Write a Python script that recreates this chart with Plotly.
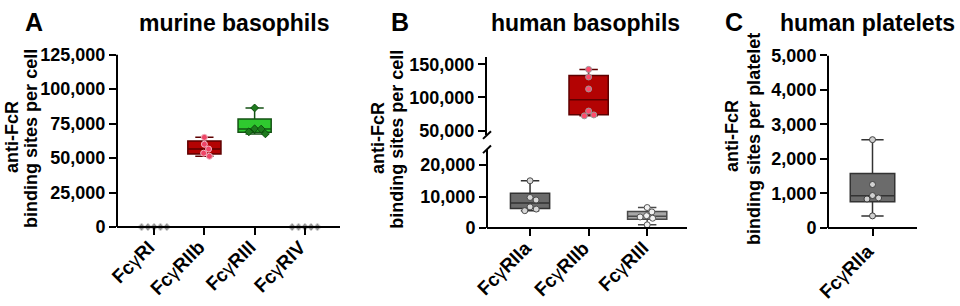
import plotly.graph_objects as go

# ---------------- data ----------------
A_CATS = ["FcγRI", "FcγRIIb", "FcγRIII", "FcγRIV"]
A_RI = [0, 0, 0, 0, 0]
A_RIIB = [65000, 60000, 56500, 53500, 51300]
A_RIII = [86300, 71200, 71000, 69000, 67500]
A_RIV = [0, 0, 0, 0, 0]
# box statistics: q1, median, q3, lower whisker, upper whisker
A_RIIB_STATS = [53000, 56500, 62300, 51300, 65000]
A_RIII_STATS = [68700, 71000, 78300, 67500, 86300]
A_YTICKS = [0, 25000, 50000, 75000, 100000, 125000]

B_CATS = ["FcγRIIa", "FcγRIIb", "FcγRIII"]
B_RIIA = [15000, 9700, 8900, 6700, 6000, 5500]
B_RIIB = [142300, 130900, 112800, 79500, 73700, 72300]
B_RIII = [6500, 5100, 3900, 3500, 3100, 1000]
B_RIIA_STATS = [6200, 7900, 11000, 5500, 15000]
B_RIIB_STATS = [74000, 96500, 133000, 72300, 142300]
B_RIII_STATS = [2800, 3700, 5200, 1000, 6500]
B_YTICKS_LOW = [0, 10000, 20000]
B_YTICKS_HIGH = [50000, 100000, 150000]

C_CATS = ["FcγRIIa"]
C_RIIA = [2560, 1260, 940, 870, 840, 350]
C_RIIA_STATS = [760, 935, 1580, 350, 2560]
C_YTICKS = [0, 1000, 2000, 3000, 4000, 5000]

# ---------------- layout constants (pixels) ----------------
W, H = 960, 306
FONT = "Liberation Sans, Arial, sans-serif"


def fx(px):
    return px / W


def fy(px):
    return 1 - px / H


# panel A
A_X0, A_X1, A_XR = 117, 340, [-0.74, 3.7]
A_Y0, A_Y1, A_YR = 237, 47, [-5495, 125000]
A_AXIS_Y = 229
# panel B
B_X0, B_X1, B_XR = 487, 687, [-0.735, 2.68]
BL_Y0, BL_Y1, BL_YR = 238, 147, [-2410, 25000]
BU_Y0, BU_Y1, BU_YR = 132, 50, [43300, 160400]
B_AXIS_Y = 230
# panel C
C_X0, C_X1, C_XR = 828, 917, [-0.5, 0.5]
C_Y0, C_Y1, C_YR = 238, 48, [-220, 5000]
C_AXIS_Y = 230


def scale(p0, p1, r):
    return abs(p1 - p0) / (r[1] - r[0])


def swarm(vals, yscale, xscale, d):
    """Beeswarm offsets (data units along x) so that markers of diameter d px do not overlap."""
    placed, offs = [], []
    for v in vals:
        y = v * yscale
        cands = [0.0]
        for px, py in placed:
            dy = abs(y - py)
            if dy < d:
                dx = (d * d - dy * dy) ** 0.5
                cands += [px - dx, px + dx]
        best = 0.0
        for c in sorted(cands, key=lambda c: (round(abs(c), 6), -c)):
            if all((c - px) ** 2 + (y - py) ** 2 >= d * d - 1e-6 for px, py in placed):
                best = c
                break
        placed.append((best, y))
        offs.append(best / xscale)
    return offs


fig = go.Figure()


def add_box(idx, stats, fill, edge, xa, ya, width, ww=0.55):
    q1, med, q3, lo, hi = stats
    fig.add_trace(go.Box(
        x=[idx], q1=[q1], median=[med], q3=[q3], lowerfence=[lo], upperfence=[hi],
        fillcolor=fill, line=dict(color=edge, width=1.5), width=width, whiskerwidth=ww,
        boxpoints=False, xaxis=xa, yaxis=ya, hoverinfo="skip"))


def add_points(idx, vals, color, edge, xa, ya, ys, xs, symbol="circle", size=6, d=6.6):
    offs = swarm(vals, ys, xs, d)
    fig.add_trace(go.Scatter(
        x=[idx + o for o in offs], y=vals, mode="markers", cliponaxis=False,
        marker=dict(color=color, size=size, symbol=symbol, line=dict(color=edge, width=1)),
        xaxis=xa, yaxis=ya))


RED_FILL, RED_EDGE = "#b30303", "#5e0000"
GREEN_FILL, GREEN_EDGE = "#2fc92f", "#145214"
DGREY_FILL, DGREY_EDGE = "#6b6b6b", "#333333"
LGREY_FILL, LGREY_EDGE = "#a8a8a8", "#4a4a4a"

# Panel A
axs, ays = scale(A_X0, A_X1, A_XR), scale(A_Y0, A_Y1, A_YR)
add_box(1, A_RIIB_STATS, RED_FILL, RED_EDGE, "x", "y", 0.66)
add_box(2, A_RIII_STATS, GREEN_FILL, GREEN_EDGE, "x", "y", 0.66)
add_points(0, A_RI, "#8f8f8f", "#d8d8d8", "x", "y", ays, axs, "diamond", 6, 6.3)
add_points(1, A_RIIB, "#ee4466", "#f2b5c3", "x", "y", ays, axs, "circle", 6, 6.6)
add_points(2, A_RIII, "#1e7a1e", "#0b4f0b", "x", "y", ays, axs, "diamond", 6, 6.6)
add_points(3, A_RIV, "#8f8f8f", "#d8d8d8", "x", "y", ays, axs, "diamond", 6, 6.3)

# Panel B
bxs = scale(B_X0, B_X1, B_XR)
bls, bus = scale(BL_Y0, BL_Y1, BL_YR), scale(BU_Y0, BU_Y1, BU_YR)
add_box(0, B_RIIA_STATS, DGREY_FILL, DGREY_EDGE, "x2", "y2", 0.67, 0.47)
add_box(1, B_RIIB_STATS, RED_FILL, RED_EDGE, "x2", "y3", 0.67, 0.47)
add_box(2, B_RIII_STATS, LGREY_FILL, LGREY_EDGE, "x2", "y2", 0.67, 0.47)
add_points(0, B_RIIA, "#d8d8d8", "#4d4d4d", "x2", "y2", bls, bxs)
add_points(1, B_RIIB, "#ff4d6d", "#9a9a9a", "x2", "y3", bus, bxs)
add_points(2, B_RIII, "#f2f2f2", "#555555", "x2", "y2", bls, bxs)

# Panel C
cxs, cys = scale(C_X0, C_X1, C_XR), scale(C_Y0, C_Y1, C_YR)
add_box(0, C_RIIA_STATS, DGREY_FILL, DGREY_EDGE, "x3", "y4", 0.5, 0.5)
add_points(0, C_RIIA, "#d0d0d0", "#404040", "x3", "y4", cys, cxs)

axis_common = dict(showgrid=False, zeroline=False, linecolor="black", linewidth=2,
                   ticks="outside", ticklen=7, tickwidth=2, tickcolor="black")
yfont = dict(family=FONT, size=18, color="black", weight="bold")

fig.update_layout(
    width=W, height=H, margin=dict(l=0, r=0, t=0, b=0),
    paper_bgcolor="white", plot_bgcolor="white", showlegend=False, boxmode="overlay",
    font=dict(family=FONT, color="black"),
    xaxis=dict(domain=[fx(A_X0), fx(A_X1)], anchor="free", position=fy(A_AXIS_Y), range=A_XR,
               tickmode="array", tickvals=list(range(len(A_CATS))), showticklabels=False,
               showline=True, **axis_common),
    yaxis=dict(domain=[fy(A_Y0), fy(A_Y1)], anchor="x", range=A_YR,
               tickmode="array", tickvals=A_YTICKS, tickformat=",", tickfont=yfont,
               showline=False, **axis_common),
    xaxis2=dict(domain=[fx(B_X0), fx(B_X1)], anchor="free", position=fy(B_AXIS_Y), range=B_XR,
                tickmode="array", tickvals=list(range(len(B_CATS))), showticklabels=False,
                showline=True, **axis_common),
    yaxis2=dict(domain=[fy(BL_Y0), fy(BL_Y1)], anchor="x2", range=BL_YR,
                tickmode="array", tickvals=B_YTICKS_LOW, tickformat=",", tickfont=yfont,
                showline=False, **axis_common),
    yaxis3=dict(domain=[fy(BU_Y0), fy(BU_Y1)], anchor="x2", range=BU_YR,
                tickmode="array", tickvals=B_YTICKS_HIGH, tickformat=",", tickfont=yfont,
                showline=True, **axis_common),
    xaxis3=dict(domain=[fx(C_X0), fx(C_X1)], anchor="free", position=fy(C_AXIS_Y), range=C_XR,
                tickmode="array", tickvals=list(range(len(C_CATS))), showticklabels=False,
                showline=True, **axis_common),
    yaxis4=dict(domain=[fy(C_Y0), fy(C_Y1)], anchor="x3", range=C_YR,
                tickmode="array", tickvals=C_YTICKS, tickformat=",", tickfont=yfont,
                showline=False, **axis_common),
)

BLACK = dict(color="black", width=2)
shapes = [
    dict(type="line", xref="paper", yref="y", x0=fx(A_X0), x1=fx(A_X0), y0=0, y1=A_YR[1], line=BLACK),
    dict(type="line", xref="paper", yref="y2", x0=fx(B_X0), x1=fx(B_X0), y0=0, y1=BL_YR[1], line=BLACK),
    dict(type="line", xref="paper", yref="y4", x0=fx(C_X0), x1=fx(C_X0), y0=0, y1=C_YR[1], line=BLACK),
    # axis break marks
    dict(type="line", xref="paper", yref="paper", x0=fx(B_X0 - 4), x1=fx(B_X0 + 4),
         y0=fy(BU_Y0 + 4), y1=fy(BU_Y0 - 4), line=BLACK),
    dict(type="line", xref="paper", yref="paper", x0=fx(B_X0 - 4), x1=fx(B_X0 + 4),
         y0=fy(BL_Y1 + 4), y1=fy(BL_Y1 - 4), line=BLACK),
]
fig.update_layout(shapes=shapes)

ann = []


def text(x, y, s, size, angle=0):
    ann.append(dict(x=fx(x), y=fy(y), xref="paper", yref="paper", text=s, showarrow=False,
                    textangle=angle, xanchor="center", yanchor="middle",
                    font=dict(family=FONT, size=size, color="black", weight="bold")))


def ticklabel(xa, idx, cat, top_px):
    s = cat.replace("γ", "<span style='font-weight:normal'>γ</span>")
    ann.append(dict(x=idx, y=fy(top_px), xref=xa, yref="paper", text=s, showarrow=False,
                    textangle=-45, xanchor="right", yanchor="top", xshift=8,
                    font=dict(family=FONT, size=19, color="black", weight="bold")))


for i, c in enumerate(A_CATS):
    ticklabel("x", i, c, 236)
for i, c in enumerate(B_CATS):
    ticklabel("x2", i, c, 237)
for i, c in enumerate(C_CATS):
    ticklabel("x3", i, c, 240)

text(34, 13, "A", 25)
text(234, 14, "murine basophils", 23)
text(400, 13, "B", 25)
text(585, 14, "human basophils", 23)
text(734, 13, "C", 25)
text(867, 14, "human platelets", 23)

text(12, 134, "anti-FcR", 18, -90)
text(31, 136, "binding sites per cell", 18, -90)
text(378, 135, "anti-FcR", 18, -90)
text(397, 137, "binding sites per cell", 18, -90)
text(732, 133, "anti-FcR", 18, -90)
text(754, 136, "binding sites per platelet", 18, -90)

fig.update_layout(annotations=ann)

fig.write_html("out.html", config={"displayModeBar": False},
               post_script="document.body.style.margin='0';document.body.style.overflow='hidden';")
